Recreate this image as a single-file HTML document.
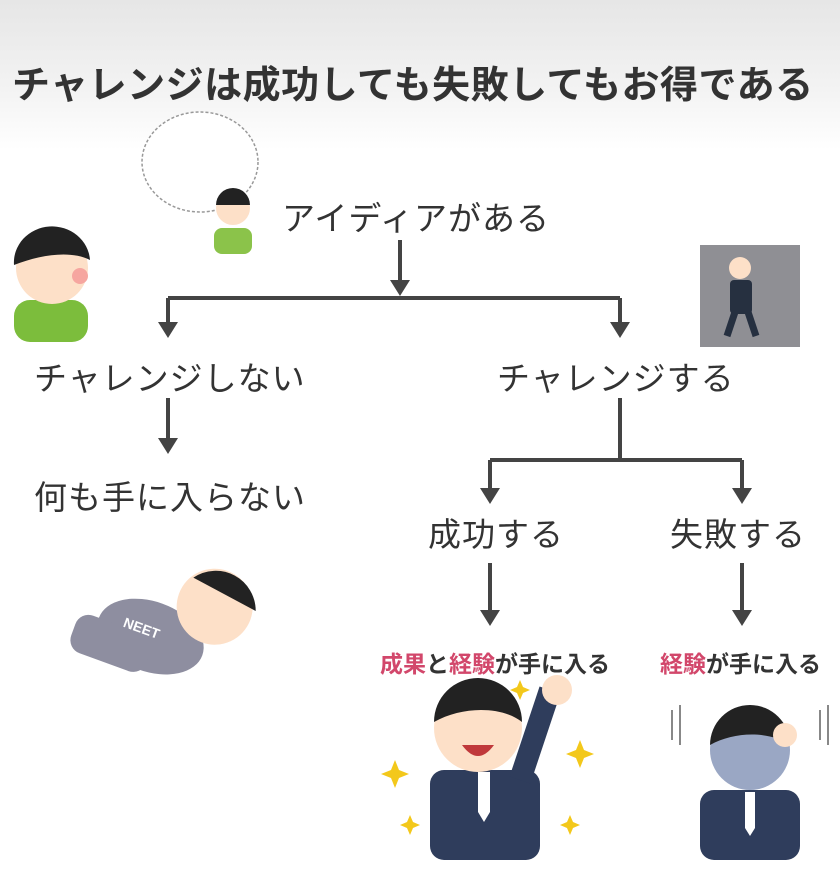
<!DOCTYPE html>
<html><head><meta charset="utf-8"><style>
html,body{margin:0;padding:0}
body{width:840px;height:872px;position:relative;overflow:hidden;background:linear-gradient(#e6e6e6 0px,#f3f3f3 90px,#fff 150px);font-family:"Liberation Sans","Noto Sans CJK JP",sans-serif;color:#333}
.t{position:absolute;white-space:nowrap;font-weight:bold;letter-spacing:1px}
svg{position:absolute;left:0;top:0}
.r{color:#d2476b}
</style></head><body>
<div class="t" style="left:12px;top:54px;font-size:38px;letter-spacing:0.5px">チャレンジは成功しても失敗してもお得である</div>
<div class="t" style="left:282px;top:192px;font-size:33px;font-weight:normal">アイディアがある</div>
<div class="t" style="left:34px;top:352px;font-size:33px;font-weight:normal">チャレンジしない</div>
<div class="t" style="left:497px;top:352px;font-size:33px;font-weight:normal">チャレンジする</div>
<div class="t" style="left:34px;top:471px;font-size:33px;font-weight:normal">何も手に入らない</div>
<div class="t" style="left:428px;top:508px;font-size:33px;font-weight:normal">成功する</div>
<div class="t" style="left:670px;top:508px;font-size:33px;font-weight:normal">失敗する</div>
<div class="t" style="left:380px;top:645px;font-size:23px;letter-spacing:0"><span class="r">成果</span>と<span class="r">経験</span>が手に入る</div>
<div class="t" style="left:660px;top:645px;font-size:23px;letter-spacing:0"><span class="r">経験</span>が手に入る</div>
<svg width="840" height="872" viewBox="0 0 840 872">
<g stroke="#444" stroke-width="4" fill="none">
<path d="M400 240V285M168 298H620M168 298V325M620 298V325M168 398V440M620 398V460M490 460H742M490 460V490M742 460V490M490 563V612M742 563V612"/>
</g>
<g fill="#444">
<path d="M390 280h20l-10 16z"/><path d="M158 322h20l-10 16z"/><path d="M610 322h20l-10 16z"/>
<path d="M158 438h20l-10 16z"/><path d="M480 488h20l-10 16z"/><path d="M732 488h20l-10 16z"/>
<path d="M480 610h20l-10 16z"/><path d="M732 610h20l-10 16z"/>
</g>
<ellipse cx="200" cy="162" rx="58" ry="50" fill="#fff" stroke="#999" stroke-width="1.5" stroke-dasharray="3 2"/>
<rect x="214" y="228" width="38" height="26" rx="8" fill="#8bc34a"/>
<circle cx="233" cy="208" r="17" fill="#fde0c8"/><path d="M216 205a17 17 0 0 1 34 0z" fill="#222"/>
<rect x="14" y="300" width="74" height="42" rx="16" fill="#7cbd3c"/>
<circle cx="52" cy="268" r="36" fill="#fde0c8"/><path d="M14 265a38 36 0 0 1 76 -5c-20 -10-50 -5-76 5z" fill="#222"/>
<circle cx="80" cy="276" r="8" fill="#f6a6a0"/>
<rect x="700" y="245" width="100" height="102" fill="#8f8f94"/>
<circle cx="740" cy="268" r="11" fill="#fde0c8"/><rect x="730" y="280" width="22" height="34" rx="4" fill="#263040"/><path d="M735 312l-8 24M748 312l8 24" stroke="#263040" stroke-width="7"/>
<g transform="rotate(20 160 640)">
<ellipse cx="150" cy="640" rx="55" ry="35" fill="#8e8ea0"/>
<rect x="75" y="640" width="80" height="40" rx="14" fill="#8e8ea0"/>
<circle cx="200" cy="590" r="38" fill="#fde0c8"/><path d="M170 570a40 40 0 0 1 70 10z" fill="#222"/>
<text x="120" y="640" font-size="14" font-weight="bold" fill="#fff" font-family="Liberation Sans">NEET</text>
</g>
<rect x="430" y="770" width="110" height="90" rx="14" fill="#2f3d5c"/>
<path d="M478 772l12 0 0 40-6 10-6-10z" fill="#fff"/>
<circle cx="478" cy="728" r="44" fill="#fde0c8"/><path d="M434 722a44 44 0 0 1 88 0c-20-16-60-16-88 0z" fill="#222"/>
<path d="M462 745q16 22 32 0z" fill="#c0393b"/>
<path d="M520 780l30-90" stroke="#2f3d5c" stroke-width="22"/><circle cx="557" cy="690" r="15" fill="#fde0c8"/>
<g fill="#f3c81b"><path d="M395 760l4 10 10 4-10 4-4 10-4-10-10-4 10-4z"/><path d="M580 740l4 10 10 4-10 4-4 10-4-10-10-4 10-4z"/><path d="M410 815l3 7 7 3-7 3-3 7-3-7-7-3 7-3z"/><path d="M570 815l3 7 7 3-7 3-3 7-3-7-7-3 7-3z"/><path d="M520 680l3 7 7 3-7 3-3 7-3-7-7-3 7-3z"/></g>
<rect x="700" y="790" width="100" height="70" rx="14" fill="#2f3d5c"/>
<path d="M745 792l10 0 0 36-5 8-5-8z" fill="#fff"/>
<circle cx="750" cy="750" r="40" fill="#9aa7c4"/><path d="M710 745a40 40 0 0 1 80 0c-20-14-55-14-80 0z" fill="#222"/>
<circle cx="785" cy="735" r="12" fill="#fde0c8"/>
<g stroke="#888" stroke-width="2"><path d="M672 710v30M680 705v40M820 710v30M828 705v40"/></g>
</svg>
</body></html>
